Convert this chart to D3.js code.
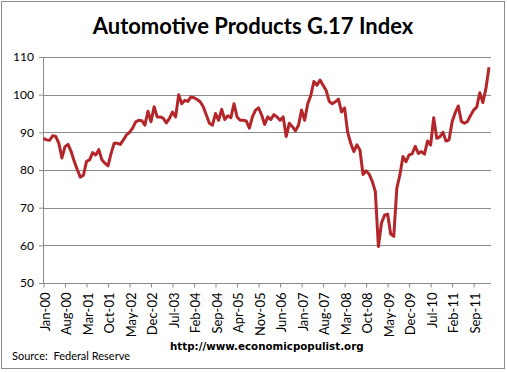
<!DOCTYPE html>
<html>
<head>
<meta charset="utf-8">
<script src="https://cdnjs.cloudflare.com/ajax/libs/d3/7.8.5/d3.min.js"></script>
<style>
  body { margin: 0; background: #fff; }
  svg { display: block; }
</style>
</head>
<body>
<div id="chart"></div>
<script>
// Monthly index values, Jan-00 .. Feb-12
var startYear = 2000;
var monthNames = ["Jan","Feb","Mar","Apr","May","Jun","Jul","Aug","Sep","Oct","Nov","Dec"];
var indexValues = [
  88.4, 88.0, 87.9, 89.1, 88.9, 87.1, 83.2, 86.2, 86.8, 84.9, 82.3, 80.1,
  78.1, 78.6, 82.3, 82.7, 84.6, 84.0, 85.4, 82.7, 81.8, 81.1, 84.4, 87.1,
  87.1, 86.8, 88.0, 89.3, 90.0, 91.1, 92.8, 93.2, 93.1, 91.9, 95.6, 92.8,
  96.8, 94.1, 94.1, 93.7, 92.5, 93.7, 95.4, 94.1, 100.0, 97.6, 98.5, 98.2,
  99.4, 99.2, 98.7, 98.1, 96.8, 94.6, 92.4, 91.9, 95.0, 93.2, 96.1, 93.4,
  94.4, 93.9, 97.6, 94.1, 93.2, 93.2, 93.0, 91.1, 94.1, 95.9, 96.5, 94.6,
  92.1, 94.1, 93.4, 94.7, 94.1, 93.2, 94.1, 88.9, 92.4, 91.5, 90.4, 91.9,
  95.9, 93.2, 97.6, 99.8, 103.5, 102.5, 103.9, 102.5, 101.1, 98.2, 97.6, 98.1,
  98.8, 95.4, 96.5, 90.0, 87.1, 84.9, 86.7, 85.3, 78.8, 79.8, 78.9, 77.0,
  74.3, 59.7, 65.9, 68.0, 68.3, 63.0, 62.4, 75.2, 78.7, 83.6, 82.2, 84.0,
  84.3, 86.3, 84.4, 84.9, 84.2, 87.7, 86.6, 93.9, 88.4, 88.8, 90.0, 87.7,
  88.0, 92.8, 95.2, 97.0, 92.9, 92.4, 92.9, 94.5, 95.9, 96.7, 100.5, 97.9,
  101.6, 107.3
];
var yTicks = [50, 60, 70, 80, 90, 100, 110];
var labelEvery = 7;

var months = indexValues.map(function(v, i) {
  var m = i % 12, y = startYear + Math.floor(i / 12);
  return monthNames[m] + "-" + String(y % 100).padStart(2, "0");
});

var svgWidth = 507;
var svgHeight = 372;
var plot = { left: 43.5, right: 491, top: 57, bottom: 283 };

var svg = d3.select("#chart")
  .append("svg")
  .attr("width", svgWidth)
  .attr("height", svgHeight);

// outer frame
svg.append("rect")
  .attr("x", 1.5).attr("y", 1.5)
  .attr("width", 503).attr("height", 367)
  .attr("fill", "#fff")
  .attr("stroke", "#8c8c8c")
  .attr("stroke-width", 1);

var xScale = d3.scalePoint()
  .domain(months)
  .range([plot.left, 489]);

var yScale = d3.scaleLinear()
  .domain([50, 110])
  .range([plot.bottom, plot.top]);

// gridlines
svg.append("g")
  .selectAll("line")
  .data(yTicks.filter(function(d) { return d > 50; }))
  .enter()
  .append("line")
  .attr("x1", plot.left)
  .attr("x2", plot.right)
  .attr("y1", function(d) { return Math.round(yScale(d)) + 0.5; })
  .attr("y2", function(d) { return Math.round(yScale(d)) + 0.5; })
  .attr("stroke", "#8a8a8a")
  .attr("stroke-width", 1);

// y axis
var leftAxis = d3.axisLeft(yScale)
  .tickValues(yTicks)
  .tickSize(4)
  .tickPadding(5);

var yAxis = svg.append("g")
  .attr("transform", "translate(" + (plot.left - 0.5) + ",0)")
  .call(leftAxis);

yAxis.select(".domain").attr("stroke", "#8a8a8a");
yAxis.selectAll(".tick line").attr("stroke", "#8a8a8a");
yAxis.selectAll("text")
  .attr("font-family", "Lato, 'Open Sans', sans-serif")
  .attr("font-size", "12px")
  .attr("fill", "#000");

// x axis
var bottomAxis = d3.axisBottom(xScale)
  .tickValues(months.filter(function(d, i) { return i % labelEvery === 0; }))
  .tickSize(4)
  .tickSizeOuter(0);

var xAxis = svg.append("g")
  .attr("transform", "translate(0," + (plot.bottom + 0.5) + ")")
  .call(bottomAxis);

xAxis.select(".domain")
  .attr("d", "M" + plot.left + ",0H" + plot.right)
  .attr("stroke", "#8a8a8a");
xAxis.selectAll(".tick line").attr("stroke", "#8a8a8a");
xAxis.selectAll("text")
  .attr("font-family", "Lato, 'Open Sans', sans-serif")
  .attr("font-size", "13px")
  .attr("fill", "#000")
  .attr("text-anchor", "end")
  .attr("transform", "rotate(-90)")
  .attr("x", -9)
  .attr("y", 1)
  .attr("dy", "0.35em");

// the line
var line = d3.line()
  .x(function(d, i) { return xScale(months[i]); })
  .y(function(d) { return yScale(d); });

svg.append("path")
  .datum(indexValues)
  .attr("d", line)
  .attr("fill", "none")
  .attr("stroke", "#b3262a")
  .attr("stroke-width", 3)
  .attr("stroke-linejoin", "round");

// title
svg.append("text")
  .attr("x", 253)
  .attr("y", 34)
  .attr("text-anchor", "middle")
  .attr("font-family", "Lato, 'Open Sans', sans-serif")
  .attr("font-weight", "bold")
  .attr("font-size", "22px")
  .text("Automotive Products G.17 Index");

// source + url
svg.append("text")
  .attr("x", 12)
  .attr("y", 360)
  .attr("font-family", "Lato, 'Open Sans', sans-serif")
  .attr("font-size", "11px")
  .attr("xml:space", "preserve")
  .text("Source:  Federal Reserve");

svg.append("text")
  .attr("x", 170)
  .attr("y", 350)
  .attr("font-family", "'DejaVu Sans', Verdana, sans-serif")
  .attr("font-weight", "bold")
  .attr("font-size", "10.3px")
  .text("http://www.economicpopulist.org");
</script>
</body>
</html>
